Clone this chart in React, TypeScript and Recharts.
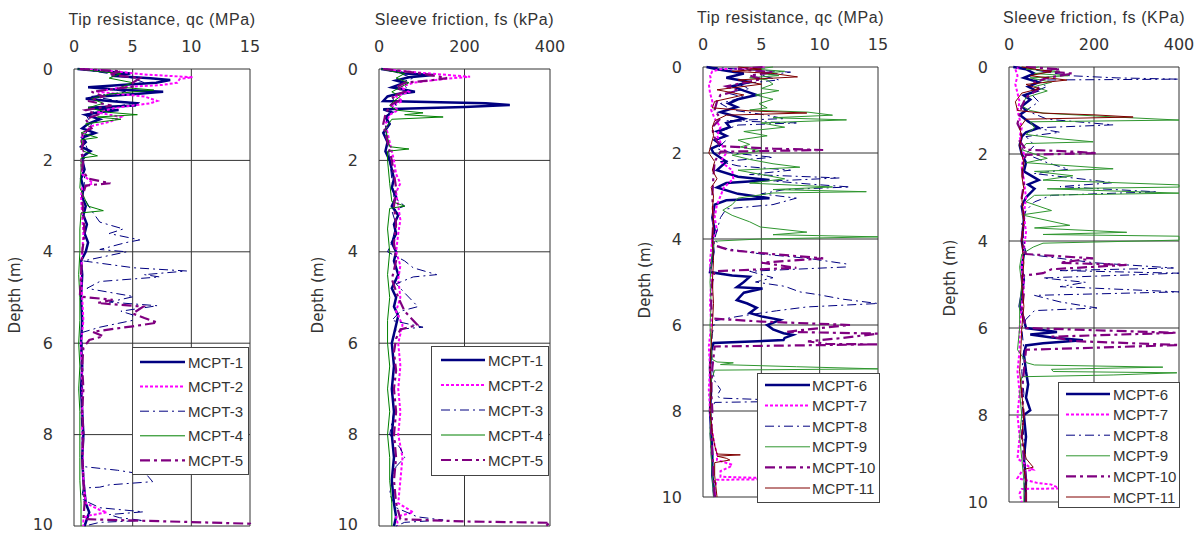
import React from "react";
import { ScatterChart, Scatter, XAxis, YAxis, CartesianGrid } from "recharts";

type Pt = [number, number]; // [depth m, value]

const depthTicks = [0, 2, 4, 6, 8, 10];
const qcTicks = [0, 5, 10, 15];
const fsTicks = [0, 200, 400];

const namesA = ["MCPT-1", "MCPT-2", "MCPT-3", "MCPT-4", "MCPT-5"];
const namesB = ["MCPT-6", "MCPT-7", "MCPT-8", "MCPT-9", "MCPT-10", "MCPT-11"];

// ---- panel 1 : tip resistance qc (MPa), MCPT-1..5 ----
const qc1: Pt[] = [[0,0.3],[0.05,2.5],[0.1,4.8],[0.15,3.2],[0.2,6.5],[0.24,8.2],[0.3,7.0],[0.35,4.0],[0.4,1.2],[0.45,3.5],[0.5,7.6],[0.55,5.0],[0.6,2.2],[0.65,1.0],[0.7,3.0],[0.75,5.4],[0.8,5.2],[0.85,1.2],[0.9,3.8],[0.95,2.0],[1.0,1.0],[1.1,2.2],[1.2,1.2],[1.3,0.7],[1.4,1.8],[1.5,0.7],[1.6,1.0],[1.7,0.6],[1.8,1.4],[1.9,0.8],[2.0,0.7],[2.2,0.9],[2.4,0.6],[2.6,0.8],[2.8,0.7],[3.0,1.0],[3.2,0.8],[3.4,1.1],[3.6,0.9],[3.8,1.2],[4.0,1.0],[4.2,0.6],[4.5,0.7],[5.0,0.6],[5.5,0.7],[6.0,0.6],[6.5,0.7],[7.0,0.6],[7.5,0.7],[8.0,0.8],[8.5,0.7],[9.0,0.8],[9.5,1.0],[9.7,1.3],[10,0.9]];
const qc2: Pt[] = [[0,0.5],[0.05,3.5],[0.12,6.0],[0.18,10.1],[0.22,9.0],[0.3,8.8],[0.35,7.5],[0.4,4.0],[0.5,2.0],[0.6,6.0],[0.7,7.1],[0.75,6.5],[0.85,3.5],[0.95,2.0],[1.05,4.0],[1.15,3.1],[1.25,1.5],[1.4,0.8],[1.6,0.6],[1.8,0.8],[2.0,0.6],[2.3,0.7],[2.5,1.6],[2.6,0.7],[2.8,0.6],[3.2,0.7],[3.6,0.8],[4.0,0.7],[4.5,0.6],[5.0,0.7],[5.5,0.8],[6.0,0.6],[7.0,0.7],[8.0,0.7],[9.0,0.8],[9.5,1.0],[9.65,2.2],[9.7,2.8],[9.78,1.1],[9.85,0.8],[10,0.8]];
const qc3: Pt[] = [[0,0.5],[0.1,3.0],[0.2,5.0],[0.3,6.0],[0.4,2.0],[0.5,4.5],[0.6,1.5],[0.75,5.0],[0.9,2.0],[1.0,1.0],[1.2,1.5],[1.5,0.8],[1.8,1.2],[2.0,0.8],[2.4,0.9],[2.8,0.8],[3.1,1.5],[3.35,2.2],[3.5,4.2],[3.6,3.0],[3.74,5.6],[3.8,4.4],[3.95,2.2],[4.0,4.5],[4.2,0.8],[4.35,5.1],[4.42,9.6],[4.5,6.0],[4.55,7.3],[4.65,2.2],[4.8,1.1],[4.98,5.1],[5.1,3.0],[5.18,7.1],[5.3,4.0],[5.38,5.0],[5.5,5.0],[5.65,2.2],[5.78,0.5],[6.0,0.7],[6.5,0.6],[7.0,0.7],[7.5,0.6],[8.0,0.7],[8.5,0.7],[8.7,0.8],[8.78,3.7],[8.88,6.2],[9.03,6.7],[9.1,3.0],[9.15,2.2],[9.17,0.8],[9.3,0.7],[9.43,0.8],[9.6,2.2],[9.69,5.9],[9.75,3.0],[9.82,3.9],[9.88,5.9],[9.92,2.2],[10,0.9]];
const qc4: Pt[] = [[0,0.3],[0.05,2.0],[0.1,4.0],[0.2,3.0],[0.3,5.0],[0.4,4.0],[0.46,6.8],[0.55,3.0],[0.65,1.5],[0.75,2.5],[0.85,1.2],[0.95,3.0],[1.0,5.4],[1.05,2.0],[1.1,4.0],[1.2,1.0],[1.3,1.5],[1.4,0.6],[1.5,2.0],[1.55,0.6],[1.7,0.7],[1.8,0.8],[1.9,2.0],[1.95,0.6],[2.2,0.6],[2.6,0.5],[3.0,1.2],[3.1,2.5],[3.15,0.6],[3.5,0.5],[4.0,0.5],[4.5,0.4],[5.0,0.5],[5.5,0.5],[6.0,0.4],[6.5,0.5],[7.0,0.4],[7.5,0.5],[8.0,0.5],[8.5,0.5],[9.0,0.5],[9.5,0.6],[10,0.6]];
const qc5: Pt[] = [[0,0.5],[0.05,4.0],[0.12,3.0],[0.2,5.6],[0.3,5.0],[0.38,5.2],[0.45,3.0],[0.5,1.5],[0.6,2.5],[0.7,1.2],[0.8,3.2],[0.9,1.0],[1.0,2.0],[1.1,1.0],[1.3,1.5],[1.4,0.7],[1.6,0.8],[1.8,0.6],[2.0,0.8],[2.2,0.7],[2.4,1.2],[2.5,3.1],[2.55,1.0],[2.8,0.7],[3.2,0.8],[3.6,0.9],[4.0,0.7],[4.5,0.6],[4.98,0.5],[5.05,3.3],[5.12,2.0],[5.2,5.9],[5.35,5.0],[5.45,6.0],[5.55,7.1],[5.63,5.0],[5.75,1.6],[5.85,2.5],[5.93,1.3],[6.1,0.8],[6.5,0.7],[7.0,0.8],[7.5,0.7],[8.0,0.8],[8.5,0.7],[9.0,0.8],[9.5,0.9],[9.85,0.8],[9.9,8.0],[9.95,15],[10,15]];

// ---- panel 2 : sleeve friction fs (kPa), MCPT-1..5 ----
const fs1: Pt[] = [[0,5],[0.05,40],[0.1,60],[0.13,127],[0.18,70],[0.25,40],[0.3,60],[0.4,30],[0.5,84],[0.55,40],[0.6,20],[0.7,10],[0.75,250],[0.79,306],[0.83,200],[0.88,10],[0.95,30],[1.05,15],[1.2,25],[1.4,10],[1.6,20],[1.8,15],[2.0,25],[2.2,30],[2.4,35],[2.6,30],[2.8,40],[3.0,30],[3.2,45],[3.4,35],[3.6,40],[3.8,30],[4.0,40],[4.2,35],[4.5,45],[4.8,30],[5.0,40],[5.2,35],[5.4,45],[5.6,40],[5.8,35],[6.0,30],[6.5,35],[7.0,30],[7.5,35],[8.0,30],[8.5,35],[9.0,30],[9.5,35],[9.8,40],[10,35]];
const fs2: Pt[] = [[0,10],[0.05,60],[0.1,120],[0.17,213],[0.22,150],[0.3,80],[0.4,50],[0.5,70],[0.6,40],[0.7,55],[0.8,30],[0.9,45],[1.0,25],[1.2,15],[1.4,20],[1.6,25],[1.8,30],[2.0,35],[2.3,40],[2.5,50],[2.7,40],[3.0,45],[3.3,50],[3.6,45],[4.0,40],[4.3,50],[4.6,45],[5.0,50],[5.3,40],[5.6,55],[6.0,45],[6.5,50],[7.0,45],[7.5,50],[8.0,45],[8.5,55],[9.0,50],[9.5,45],[9.7,80],[9.8,40],[10,45]];
const fs3: Pt[] = [[0,10],[0.1,50],[0.2,80],[0.3,50],[0.45,70],[0.6,30],[0.8,40],[1.0,20],[1.3,15],[1.6,20],[2.0,25],[2.4,30],[2.8,35],[3.0,60],[3.1,30],[3.4,40],[3.8,30],[4.0,20],[4.2,60],[4.35,80],[4.5,135],[4.55,80],[4.7,40],[4.9,60],[5.2,91],[5.3,50],[5.5,30],[5.65,103],[5.7,40],[6.0,30],[6.5,35],[7.0,30],[7.5,35],[8.0,25],[8.3,50],[8.5,60],[8.7,40],[9.0,30],[9.3,25],[9.6,40],[9.8,90],[9.87,150],[9.92,60],[10,40]];
const fs4: Pt[] = [[0,5],[0.05,30],[0.1,60],[0.2,40],[0.3,70],[0.4,50],[0.5,30],[0.6,50],[0.7,35],[0.8,25],[0.9,40],[0.96,103],[1.0,60],[1.05,150],[1.1,30],[1.3,15],[1.5,20],[1.7,25],[1.75,70],[1.8,20],[2.0,20],[2.5,25],[2.9,30],[3.0,60],[3.05,25],[3.5,20],[4.0,25],[4.5,20],[5.0,25],[5.5,20],[6.0,20],[6.5,25],[7.0,20],[7.5,25],[8.0,20],[8.5,25],[9.0,25],[9.5,30],[10,30]];
const fs5: Pt[] = [[0,10],[0.05,60],[0.1,100],[0.2,159],[0.25,120],[0.3,60],[0.4,40],[0.5,60],[0.6,30],[0.7,45],[0.8,25],[1.0,15],[1.2,10],[1.4,15],[1.6,20],[1.8,25],[2.0,30],[2.3,35],[2.6,40],[3.0,35],[3.4,40],[3.8,35],[4.2,40],[4.6,30],[5.0,45],[5.3,60],[5.6,90],[5.7,50],[5.9,40],[6.2,35],[6.6,40],[7.0,35],[7.5,40],[8.0,35],[8.5,40],[9.0,35],[9.5,40],[9.85,50],[9.9,200],[9.93,400],[10,390]];

// ---- panel 3 : tip resistance qc (MPa), MCPT-6..11 ----
const qc6: Pt[] = [[0,0.3],[0.05,1.2],[0.15,3.5],[0.25,2.0],[0.35,4.0],[0.45,2.5],[0.55,3.5],[0.65,4.6],[0.75,3.0],[0.85,2.2],[0.93,2.9],[1.05,1.5],[1.2,3.5],[1.3,2.0],[1.4,2.3],[1.5,1.2],[1.6,2.0],[1.7,1.0],[1.8,1.5],[1.9,0.7],[2.0,0.9],[2.2,2.0],[2.4,1.2],[2.55,3.0],[2.63,5.7],[2.7,2.0],[2.8,1.2],[2.95,3.0],[3.05,5.7],[3.1,2.0],[3.2,1.0],[3.5,0.8],[3.8,1.0],[4.0,0.8],[4.3,0.9],[4.6,0.7],[4.77,0.6],[4.85,2.5],[4.88,4.0],[5.0,3.5],[5.12,2.9],[5.15,5.1],[5.25,3.5],[5.42,2.9],[5.5,3.8],[5.6,4.6],[5.72,4.0],[5.8,5.0],[5.88,6.6],[6.0,5.5],[6.1,6.0],[6.19,6.9],[6.23,7.7],[6.3,7.0],[6.35,6.9],[6.42,0.9],[6.6,0.7],[7.0,0.6],[7.5,0.7],[8.0,0.6],[8.5,0.7],[9.0,0.8],[9.5,0.8],[10,1.0]];
const qc7: Pt[] = [[0,5.1],[0.02,5.3],[0.05,1.5],[0.1,0.8],[0.2,0.6],[0.3,0.7],[0.4,0.5],[0.6,0.6],[0.8,0.8],[1.0,0.7],[1.2,1.0],[1.4,1.5],[1.6,1.2],[1.8,1.6],[2.0,2.0],[2.2,1.5],[2.4,2.5],[2.6,2.6],[2.8,1.8],[3.0,1.5],[3.2,1.2],[3.5,1.0],[3.8,1.2],[4.0,0.8],[4.5,0.6],[5.0,0.7],[5.5,0.6],[6.0,0.7],[6.5,0.5],[7.0,0.6],[7.5,0.5],[8.0,0.6],[8.5,0.8],[8.8,1.0],[9.0,1.2],[9.14,1.2],[9.25,2.5],[9.3,2.3],[9.4,1.5],[9.53,1.5],[9.58,8.0],[9.6,1.2],[9.8,1.0],[10,1.1]];
const qc8: Pt[] = [[0,0.5],[0.05,3.0],[0.12,7.5],[0.2,5.0],[0.3,6.5],[0.4,3.0],[0.5,4.0],[0.6,2.0],[0.7,3.5],[0.85,1.5],[1.0,2.5],[1.1,5.0],[1.2,7.0],[1.25,2.0],[1.3,8.0],[1.35,3.0],[1.5,1.5],[1.7,2.0],[1.9,1.2],[2.0,2.5],[2.1,6.0],[2.2,1.5],[2.3,3.0],[2.4,7.5],[2.5,4.0],[2.58,11.7],[2.65,6.0],[2.72,9.0],[2.79,12.6],[2.85,7.0],[2.95,5.0],[3.05,8.0],[3.2,6.0],[3.3,2.0],[3.5,1.5],[3.8,1.2],[4.0,1.0],[4.2,1.5],[4.35,5.0],[4.45,9.0],[4.58,12.3],[4.65,12.3],[4.75,4.0],[4.9,6.0],[5.0,4.5],[5.1,7.0],[5.23,8.3],[5.3,10.0],[5.4,12.0],[5.5,15],[5.58,8.9],[5.67,6.3],[5.8,3.0],[5.9,1.0],[6.2,0.8],[6.6,0.7],[7.0,0.8],[7.3,1.0],[7.5,1.5],[7.65,1.2],[7.7,1.5],[7.77,9.0],[7.8,1.0],[8.0,0.7],[8.5,0.6],[9.0,0.7],[9.5,0.8],[10,0.9]];
const qc9: Pt[] = [[0,6.0],[0.05,4.5],[0.1,7.0],[0.15,5.0],[0.2,6.5],[0.25,4.0],[0.3,5.5],[0.4,6.0],[0.5,5.0],[0.55,6.5],[0.65,4.5],[0.75,6.0],[0.85,4.8],[0.95,5.5],[1.0,4.0],[1.05,9.0],[1.12,11.1],[1.18,6.0],[1.23,12.3],[1.3,5.0],[1.4,7.0],[1.5,3.5],[1.6,5.5],[1.7,3.0],[1.8,4.0],[1.86,3.2],[1.95,5.0],[2.05,2.5],[2.15,4.0],[2.25,6.0],[2.33,8.3],[2.4,3.0],[2.5,5.0],[2.6,7.0],[2.7,4.0],[2.79,11.1],[2.85,6.0],[2.9,14.0],[2.93,6.0],[3.05,3.0],[3.2,2.5],[3.33,1.7],[3.45,2.5],[3.6,4.0],[3.72,4.9],[3.84,8.9],[3.9,6.0],[3.95,15],[4.0,4.9],[4.05,1.0],[4.3,0.8],[4.6,0.7],[5.0,0.6],[5.5,0.7],[6.0,0.6],[6.5,0.7],[6.8,0.8],[6.86,1.2],[6.88,2.6],[6.92,1.5],[6.97,8.0],[7.02,15],[7.05,1.0],[7.3,0.7],[7.6,0.6],[8.0,0.7],[8.5,0.6],[9.0,0.7],[9.5,0.8],[10,0.9]];
const qc10: Pt[] = [[0,5.1],[0.05,3.0],[0.12,6.0],[0.2,4.0],[0.28,5.0],[0.35,3.8],[0.45,2.0],[0.55,3.0],[0.65,1.5],[0.8,1.2],[1.0,1.0],[1.2,1.5],[1.4,0.8],[1.6,0.9],[1.84,1.5],[1.9,6.0],[1.93,10.3],[1.97,1.5],[2.2,1.0],[2.5,0.9],[3.0,0.8],[3.5,0.9],[4.0,0.8],[4.15,1.0],[4.26,2.3],[4.35,6.0],[4.45,10.3],[4.55,5.0],[4.67,8.0],[4.75,1.0],[5.0,0.8],[5.5,0.7],[5.85,0.8],[5.92,5.0],[6.0,12.6],[6.1,9.0],[6.16,7.2],[6.2,15],[6.3,12.0],[6.38,9.0],[6.44,10.6],[6.45,15],[6.5,1.0],[7.0,0.8],[7.5,0.7],[8.0,0.8],[8.5,0.7],[9.0,0.8],[9.5,0.9],[10,1.0]];
const qc11: Pt[] = [[0,3.0],[0.05,5.0],[0.1,2.5],[0.15,6.0],[0.23,8.1],[0.3,3.0],[0.4,5.0],[0.53,1.2],[0.65,3.5],[0.8,1.0],[0.95,0.8],[1.02,4.0],[1.07,8.9],[1.12,2.0],[1.25,1.0],[1.4,0.8],[1.6,0.9],[1.8,0.7],[2.0,0.5],[2.2,1.0],[2.4,0.8],[2.6,1.2],[2.8,0.7],[3.0,0.9],[3.3,0.8],[3.6,0.9],[4.0,0.8],[4.5,0.9],[5.0,0.8],[5.5,0.9],[6.0,0.8],[6.5,0.7],[7.0,0.6],[7.5,0.7],[8.0,0.6],[8.5,0.8],[8.8,1.0],[9.0,1.2],[9.02,3.2],[9.05,1.2],[9.1,2.0],[9.14,2.3],[9.2,1.0],[9.5,1.0],[10,1.2]];

// ---- panel 4 : sleeve friction fs (kPa), MCPT-6..11 ----
const fs6: Pt[] = [[0,10],[0.05,40],[0.15,60],[0.25,35],[0.35,70],[0.45,45],[0.55,65],[0.65,35],[0.75,50],[0.9,30],[1.0,40],[1.1,25],[1.25,45],[1.4,70],[1.5,40],[1.6,30],[1.8,25],[2.0,30],[2.2,40],[2.4,35],[2.6,70],[2.7,45],[2.8,60],[3.0,40],[3.2,30],[3.5,35],[4.0,30],[4.3,35],[4.6,30],[4.9,35],[5.2,30],[5.5,25],[5.8,35],[6.0,40],[6.09,113],[6.15,50],[6.22,100],[6.28,174],[6.35,80],[6.4,40],[6.6,35],[7.0,40],[7.3,45],[7.6,40],[7.89,50],[8.0,35],[8.5,40],[9.0,35],[9.5,40],[10,38]];
const fs7: Pt[] = [[0,25],[0.05,15],[0.2,20],[0.4,15],[0.6,20],[0.8,25],[1.0,20],[1.2,25],[1.4,30],[1.6,25],[1.8,30],[2.0,35],[2.3,30],[2.6,35],[3.0,40],[3.4,35],[3.8,40],[4.2,35],[4.6,30],[5.0,35],[5.5,30],[6.0,25],[6.5,25],[7.0,20],[7.5,25],[8.0,20],[8.5,25],[9.0,20],[9.26,57],[9.3,30],[9.45,20],[9.56,66],[9.6,100],[9.66,113],[9.68,200],[9.7,30],[9.8,25],[10,30]];
const fs8: Pt[] = [[0,20],[0.1,80],[0.2,143],[0.25,254],[0.28,400],[0.3,60],[0.45,90],[0.6,50],[0.8,70],[1.0,40],[1.2,90],[1.33,245],[1.4,60],[1.5,120],[1.6,40],[1.8,60],[2.0,40],[2.2,90],[2.35,140],[2.45,60],[2.55,150],[2.66,245],[2.75,120],[2.87,348],[2.95,100],[3.1,60],[3.3,40],[3.6,30],[4.0,35],[4.3,40],[4.5,200],[4.62,387],[4.68,120],[4.74,400],[4.85,80],[4.95,180],[5.05,120],[5.17,400],[5.25,60],[5.4,120],[5.54,207],[5.6,60],[5.8,40],[6.0,30],[6.5,35],[7.0,30],[7.5,35],[8.0,30],[8.5,35],[9.0,40],[9.5,35],[10,40]];
const fs9: Pt[] = [[0,70],[0.05,40],[0.1,120],[0.15,60],[0.2,140],[0.25,50],[0.35,100],[0.45,60],[0.55,90],[0.7,40],[0.9,30],[1.0,50],[1.06,80],[1.15,250],[1.22,400],[1.26,50],[1.4,60],[1.55,40],[1.65,120],[1.72,198],[1.76,40],[1.9,30],[2.1,90],[2.2,40],[2.34,245],[2.4,60],[2.5,150],[2.6,80],[2.71,400],[2.76,400],[2.8,90],[2.9,400],[2.95,60],[3.1,40],[3.3,100],[3.4,30],[3.64,143],[3.7,60],[3.8,277],[3.85,80],[3.89,400],[3.98,400],[4.05,80],[4.14,57],[4.3,30],[4.6,25],[5.0,30],[5.5,25],[6.0,25],[6.5,20],[6.8,42],[6.85,60],[6.9,362],[6.95,100],[7.0,104],[7.03,395],[7.08,245],[7.12,30],[7.5,25],[8.0,30],[8.5,25],[9.0,30],[9.5,35],[10,35]];
const fs10: Pt[] = [[0,40],[0.05,120],[0.1,80],[0.15,150],[0.25,90],[0.35,60],[0.5,70],[0.7,40],[0.9,30],[1.1,25],[1.3,20],[1.5,30],[1.7,25],[1.9,40],[1.95,160],[1.98,207],[2.02,40],[2.3,30],[2.7,35],[3.0,30],[3.5,35],[4.0,30],[4.3,40],[4.4,198],[4.5,120],[4.55,277],[4.65,100],[4.74,80],[4.8,30],[5.2,35],[5.6,30],[6.0,40],[6.05,200],[6.11,394],[6.2,100],[6.3,150],[6.39,400],[6.44,245],[6.5,40],[7.0,35],[7.5,30],[8.0,35],[8.5,30],[9.0,35],[9.5,40],[10,40]];
const fs11: Pt[] = [[0,30],[0.05,60],[0.1,100],[0.2,50],[0.3,136],[0.4,40],[0.5,70],[0.6,30],[0.8,15],[1.0,20],[1.06,80],[1.1,200],[1.15,292],[1.2,40],[1.4,25],[1.6,30],[1.8,25],[2.0,30],[2.2,35],[2.5,30],[2.8,35],[3.0,30],[3.5,35],[4.0,30],[4.5,35],[5.0,30],[5.5,35],[6.0,30],[6.5,28],[7.0,25],[7.5,30],[8.0,35],[8.5,30],[9.0,40],[9.2,57],[9.25,35],[9.5,40],[10,40]];

type LineStyle = { stroke: string; strokeWidth: number; strokeDasharray?: string };

const styleA: LineStyle[] = [
  { stroke: "#000080", strokeWidth: 2.5 },
  { stroke: "#ff00ff", strokeWidth: 2, strokeDasharray: "3 2" },
  { stroke: "#000080", strokeWidth: 1, strokeDasharray: "9 4 2 4" },
  { stroke: "#008000", strokeWidth: 1 },
  { stroke: "#800080", strokeWidth: 2.2, strokeDasharray: "10 4 3 4" },
];
const styleB: LineStyle[] = [
  ...styleA.slice(0, 3),
  { stroke: "#2f962f", strokeWidth: 1 },
  styleA[4],
  { stroke: "#800000", strokeWidth: 1 },
];

const FONT = "'Liberation Sans', Arial, sans-serif";
const WIDE = "'DejaVu Sans', sans-serif";

type Box = { l: number; r: number; t: number; b: number };
type Leg = { l: number; t: number; w: number; h: number; y0: number; dy: number; x0: number; x1: number; tx: number };

function Panel(props: {
  box: Box;
  xMax: number;
  xTicks: number[];
  series: Pt[][];
  names: string[];
  styles: LineStyle[];
  title: string;
  titleTop: number;
  yLabel: { x: number; y: number };
  legend: Leg;
}) {
  const { box, xMax, xTicks, series, names, styles, title, titleTop, yLabel, legend } = props;
  const cl = box.l - 60;
  const cw = box.r + 19 - cl;
  const tick = { fontSize: 16, fill: "#333", fontFamily: WIDE };
  return (
    <>
      <div style={{ position: "absolute", left: cl, top: 0 }}>
        <ScatterChart
          width={cw}
          height={533}
          margin={{ top: box.t - 40, right: 19, bottom: 533 - box.b, left: 0 }}
        >
          <CartesianGrid stroke="#333" strokeWidth={1} />
          <XAxis
            type="number"
            dataKey="v"
            orientation="top"
            domain={[0, xMax]}
            ticks={xTicks}
            height={40}
            tickLine={false}
            axisLine={false}
            tickSize={0}
            tickMargin={17}
            tick={tick}
          />
          <YAxis
            type="number"
            dataKey="d"
            domain={[0, 10]}
            reversed
            ticks={depthTicks}
            width={60}
            tickLine={false}
            axisLine={false}
            tickSize={0}
            tickMargin={21}
            tick={tick}
          />
          {series.map((pts, i) => (
            <Scatter
              key={names[i]}
              name={names[i]}
              data={pts.map(([d, v]) => ({ d, v }))}
              fill={styles[i].stroke}
              line={{ ...styles[i], fill: "none" }}
              lineJointType="linear"
              shape={() => <g />}
              isAnimationActive={false}
            />
          ))}
        </ScatterChart>
      </div>
      <div
        style={{
          position: "absolute",
          left: (box.l + box.r) / 2,
          top: titleTop,
          transform: "translateX(-50%)",
          whiteSpace: "nowrap",
          fontFamily: FONT,
          fontSize: 16,
          letterSpacing: 0.6,
          lineHeight: "16px",
          color: "#333",
        }}
      >
        {title}
      </div>
      <div
        style={{
          position: "absolute",
          left: yLabel.x,
          top: yLabel.y,
          transform: "translate(-50%, -50%) rotate(-90deg)",
          whiteSpace: "nowrap",
          fontFamily: WIDE,
          fontSize: 15,
          lineHeight: "15px",
          color: "#333",
        }}
      >
        Depth (m)
      </div>
      <div
        style={{
          position: "absolute",
          left: legend.l,
          top: legend.t,
          width: legend.w,
          height: legend.h,
          background: "#fff",
          border: "1px solid #444",
          boxSizing: "border-box",
        }}
      >
        <svg width={legend.w} height={legend.h} style={{ position: "absolute", left: -1, top: -1 }}>
          {names.map((n, i) => {
            const y = legend.y0 + i * legend.dy;
            return (
              <g key={n}>
                <line x1={legend.x0} x2={legend.x1} y1={y} y2={y} {...styles[i]} />
                <text x={legend.tx} y={y + 5.5} fontSize={15} fill="#333" fontFamily={FONT}>
                  {n}
                </text>
              </g>
            );
          })}
        </svg>
      </div>
    </>
  );
}

export default function App() {
  return (
    <div
      style={{
        position: "absolute",
        left: 0,
        top: 0,
        width: 1198,
        height: 533,
        background: "#fff",
        overflow: "hidden",
        fontFamily: FONT,
      }}
    >
      <Panel
        box={{ l: 74, r: 250, t: 69, b: 526 }}
        xMax={15}
        xTicks={qcTicks}
        series={[qc1, qc2, qc3, qc4, qc5]}
        names={namesA}
        styles={styleA}
        title="Tip resistance, qc (MPa)"
        titleTop={12}
        yLabel={{ x: 15, y: 295 }}
        legend={{ l: 132, t: 347, w: 117, h: 128, y0: 15, dy: 24.6, x0: 8, x1: 53, tx: 56 }}
      />
      <Panel
        box={{ l: 379, r: 550, t: 69, b: 526 }}
        xMax={400}
        xTicks={fsTicks}
        series={[fs1, fs2, fs3, fs4, fs5]}
        names={namesA}
        styles={styleA}
        title="Sleeve friction, fs (kPa)"
        titleTop={12}
        yLabel={{ x: 318, y: 295 }}
        legend={{ l: 431, t: 346, w: 118, h: 130, y0: 14, dy: 25, x0: 10, x1: 54, tx: 57 }}
      />
      <Panel
        box={{ l: 703, r: 878, t: 67, b: 497 }}
        xMax={15}
        xTicks={qcTicks}
        series={[qc6, qc7, qc8, qc9, qc10, qc11]}
        names={namesB}
        styles={styleB}
        title="Tip resistance, qc (MPa)"
        titleTop={10}
        yLabel={{ x: 645, y: 280 }}
        legend={{ l: 757, t: 373, w: 123, h: 130, y0: 12, dy: 20.6, x0: 8, x1: 53, tx: 55 }}
      />
      <Panel
        box={{ l: 1009, r: 1179, t: 67, b: 502 }}
        xMax={400}
        xTicks={fsTicks}
        series={[fs6, fs7, fs8, fs9, fs10, fs11]}
        names={namesB}
        styles={styleB}
        title="Sleeve friction, fs (KPa)"
        titleTop={10}
        yLabel={{ x: 950, y: 278 }}
        legend={{ l: 1058, t: 382, w: 122, h: 126, y0: 12, dy: 20.6, x0: 8, x1: 52, tx: 55 }}
      />
    </div>
  );
}
